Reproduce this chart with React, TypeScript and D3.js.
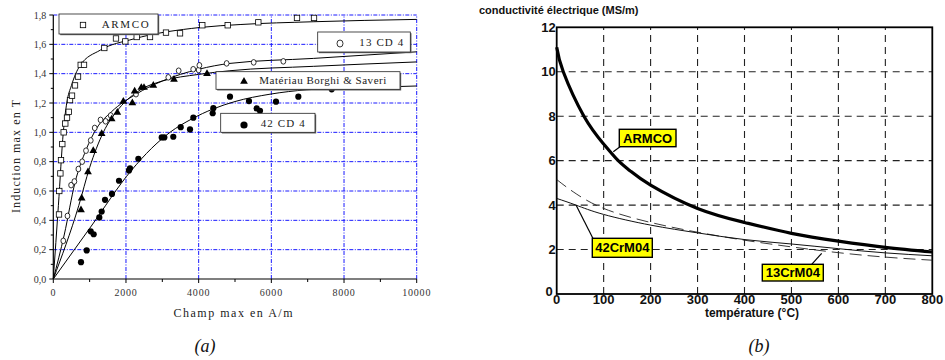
import React from "react";
import * as d3 from "d3";

// ---------- Chart (a) data ----------
const armcoPts: [number, number][] = [
  [157, 0.44], [165, 0.6], [195, 0.72], [212, 0.81], [248, 0.92], [285, 1.0], [330, 1.06],
  [377, 1.1], [424, 1.14], [460, 1.22], [515, 1.25], [597, 1.32], [680, 1.38], [754, 1.46],
  [845, 1.46], [1404, 1.575], [1725, 1.64], [1982, 1.62], [2295, 1.65], [2661, 1.65],
  [3101, 1.68], [3487, 1.675], [4100, 1.73], [4799, 1.73], [5642, 1.75], [6706, 1.78], [7174, 1.78],
];
const cd13Pts: [number, number][] = [
  [275, 0.26], [390, 0.43], [490, 0.64], [580, 0.665], [690, 0.75], [795, 0.8], [900, 0.875],
  [1030, 0.945], [1140, 1.03], [1300, 1.085], [1440, 1.075], [1580, 1.115], [2276, 1.26],
  [3165, 1.375], [3450, 1.42], [3850, 1.43], [4000, 1.425], [4020, 1.457], [4770, 1.47],
  [5514, 1.477], [6330, 1.484],
];
const borghiPts: [number, number][] = [
  [762, 0.47], [781, 0.55], [955, 0.73], [1100, 0.875], [1331, 0.99], [1606, 1.09],
  [1762, 1.135], [1927, 1.21], [2175, 1.2], [2239, 1.28], [2422, 1.305], [2496, 1.305],
  [2752, 1.32], [3321, 1.36], [4230, 1.4],
];
const cd42Pts: [number, number][] = [
  [762, 0.115], [919, 0.195], [1029, 0.325], [1111, 0.305], [1266, 0.42], [1331, 0.46],
  [1423, 0.54], [1615, 0.58], [1808, 0.67], [2083, 0.74], [2110, 0.755], [2340, 0.82],
  [2983, 0.965], [3055, 0.965], [3302, 0.97], [3506, 1.035], [3762, 1.02], [3853, 1.1],
  [4386, 1.13], [4404, 1.165], [4862, 1.243], [5385, 1.213], [5596, 1.163], [5688, 1.147],
  [6128, 1.209], [6743, 1.243], [7661, 1.293],
];
// fitted curves
const armcoFit: [number, number][] = [
  [0, 0], [140, 0.5], [275, 1.0], [370, 1.2], [500, 1.32], [735, 1.455], [1290, 1.56],
  [2200, 1.636], [4040, 1.715], [5140, 1.735], [7150, 1.754], [10000, 1.77],
];
const cd13Fit: [number, number][] = [
  [0, 0], [300, 0.3], [600, 0.66], [900, 0.88], [1200, 1.03], [1600, 1.14], [2276, 1.26],
  [3000, 1.35], [4000, 1.43], [4860, 1.47], [7155, 1.504], [10000, 1.549],
];
const borghiFit: [number, number][] = [
  [0, 0], [700, 0.5], [1000, 0.76], [1376, 1.0], [1800, 1.16], [2400, 1.29], [3000, 1.35],
  [4000, 1.395], [4860, 1.42], [7155, 1.45], [10000, 1.48],
];
const cd42Fit: [number, number][] = [
  [0, 0], [1000, 0.345], [2157, 0.743], [2700, 0.89], [3211, 1.0], [3800, 1.09], [4404, 1.16],
  [5000, 1.21], [5963, 1.26], [6973, 1.29], [8500, 1.305], [10000, 1.316],
];
const aXTicks = [0, 2000, 4000, 6000, 8000, 10000];
const aXLabels = ["0", "2000", "4000", "6000", "8000", "10000"];
const aYTicks = [0, 0.2, 0.4, 0.6, 0.8, 1.0, 1.2, 1.4, 1.6, 1.8];
const aYLabels = ["0,0", "0,2", "0,4", "0,6", "0,8", "1,0", "1,2", "1,4", "1,6", "1,8"];

// ---------- Chart (b) data ----------
const temps = [0, 100, 200, 300, 400, 500, 600, 700, 800];
const armcoT = [0, 14, 58, 100, 131, 156, 200, 300, 400, 500, 600, 700, 800];
const armcoS = [11.1, 10, 8, 6.75, 6, 5.55, 4.9, 3.85, 3.22, 2.73, 2.38, 2.1, 1.89];
const cr42T = [0, 41, 100, 200, 300, 400, 500, 600, 700, 800];
const cr42S = [4.3, 4.0, 3.58, 3.1, 2.75, 2.45, 2.25, 2.04, 1.85, 1.72];
const cr13T = [0, 35, 100, 200, 300, 400, 500, 600, 700, 800];
const cr13S = [5.15, 4.6, 3.85, 3.22, 2.78, 2.42, 2.12, 1.86, 1.66, 1.52];
const bYTicks = [0, 2, 4, 6, 8, 10, 12];

const serif = "'Liberation Serif', 'Times New Roman', serif";
const sans = "'Liberation Sans', Arial, sans-serif";

function ChartA() {
  const x = d3.scaleLinear().domain([0, 10000]).range([53.3, 416.7]);
  const y = d3.scaleLinear().domain([0, 1.8]).range([279, 15]);
  const line = d3.line<[number, number]>().x((d) => x(d[0])).y((d) => y(d[1])).curve(d3.curveMonotoneX);
  const blue = "#1a1aff";
  const dash = "4,1.5,1,1.5";
  const minorX = d3.range(1000, 10000, 2000);
  const minorY = d3.range(0.1, 1.8, 0.2);
  const tri = d3.symbol().type(d3.symbolTriangle).size(26)()!;
  return (
    <g>
      {/* grid */}
      {aXTicks.slice(1).map((t) => (
        <line key={"gx" + t} x1={x(t)} x2={x(t)} y1={y(0)} y2={y(1.8)} stroke={blue} strokeWidth={1} strokeDasharray={dash} />
      ))}
      {aYTicks.slice(1).map((t) => (
        <line key={"gy" + t} x1={x(0)} x2={x(10000)} y1={y(t)} y2={y(t)} stroke={blue} strokeWidth={1} strokeDasharray={dash} />
      ))}
      {/* axes */}
      <line x1={x(0)} x2={x(0)} y1={y(0)} y2={y(1.8)} stroke="#000" strokeWidth={1.2} />
      <line x1={x(0)} x2={x(10000)} y1={y(0)} y2={y(0)} stroke="#000" strokeWidth={1.2} />
      {aYTicks.map((t) => (
        <line key={"ty" + t} x1={x(0) - 4} x2={x(0)} y1={y(t)} y2={y(t)} stroke="#000" strokeWidth={1} />
      ))}
      {minorY.map((t) => (
        <line key={"mty" + t} x1={x(0) - 2.5} x2={x(0)} y1={y(t)} y2={y(t)} stroke="#000" strokeWidth={1} />
      ))}
      {aXTicks.map((t) => (
        <line key={"tx" + t} x1={x(t)} x2={x(t)} y1={y(0)} y2={y(0) + 4} stroke="#000" strokeWidth={1} />
      ))}
      {minorX.map((t) => (
        <line key={"mtx" + t} x1={x(t)} x2={x(t)} y1={y(0)} y2={y(0) + 3} stroke="#000" strokeWidth={1} />
      ))}
      {aYLabels.map((l, i) => (
        <text key={"ly" + l} x={x(0) - 7} y={y(aYTicks[i])} dy="0.35em" textAnchor="end" fontFamily={serif} fontSize={10} fill="#333">
          {l}
        </text>
      ))}
      {aXLabels.map((l, i) => (
        <text key={"lx" + l} x={x(aXTicks[i])} y={296} textAnchor="middle" fontFamily={serif} fontSize={10} letterSpacing={0.8} fill="#333">
          {l}
        </text>
      ))}
      <text x={233} y={316.5} textAnchor="middle" fontFamily={serif} fontSize={12} textLength={119} lengthAdjust="spacing" fill="#222">
        Champ max en A/m
      </text>
      <text transform={`translate(20,156.5) rotate(-90)`} textAnchor="middle" fontFamily={serif} fontSize={12} textLength={113} lengthAdjust="spacing" fill="#222">
        Induction max en T
      </text>
      {/* fitted curves */}
      {[armcoFit, cd13Fit, borghiFit, cd42Fit].map((c, i) => (
        <path key={"c" + i} d={line(c)!} fill="none" stroke="#000" strokeWidth={1} />
      ))}
      {/* markers */}
      {armcoPts.map((p, i) => (
        <rect key={"s" + i} x={x(p[0]) - 2.7} y={y(p[1]) - 2.7} width={5.4} height={5.4} fill="#fff" stroke="#000" strokeWidth={0.8} />
      ))}
      {cd13Pts.map((p, i) => (
        <ellipse key={"o" + i} cx={x(p[0])} cy={y(p[1])} rx={2.4} ry={2.8} fill="#fff" stroke="#000" strokeWidth={0.8} />
      ))}
      {borghiPts.map((p, i) => (
        <path key={"t" + i} d={tri} transform={`translate(${x(p[0])},${y(p[1])})`} fill="#000" />
      ))}
      {cd42Pts.map((p, i) => (
        <circle key={"f" + i} cx={x(p[0])} cy={y(p[1])} r={3.1} fill="#000" />
      ))}
      {/* legend boxes */}
      <LegendBox x0={59} y0={14} w={99} h={20} label="ARMCO" tx={101.7} tl={47}>
        <rect x={80.3} y={22.3} width={5.4} height={5.4} fill="#fff" stroke="#000" strokeWidth={0.8} />
      </LegendBox>
      <LegendBox x0={317.7} y0={32} w={92.6} h={20} label="13 CD 4" tx={359.3} tl={44}>
        <ellipse cx={340} cy={43.5} rx={3} ry={3.5} fill="#fff" stroke="#000" strokeWidth={0.8} />
      </LegendBox>
      <LegendBox x0={216} y0={71.7} w={184} h={17.6} label="Matériau Borghi & Saveri" tx={259.3} tl={127}>
        <path d={tri} transform="translate(244,81.5)" fill="#000" />
      </LegendBox>
      <LegendBox x0={220.7} y0={113.3} w={94.3} h={19} label="42 CD 4" tx={260.7} tl={44}>
        <circle cx={244} cy={125} r={3.6} fill="#000" />
      </LegendBox>
      <text x={205} y={352} textAnchor="middle" fontFamily={serif} fontStyle="italic" fontSize={18} fill="#111">
        (a)
      </text>
    </g>
  );
}

function LegendBox(props: { x0: number; y0: number; w: number; h: number; label: string; tx: number; tl: number; children?: React.ReactNode }) {
  const { x0, y0, w, h, label, tx, tl } = props;
  return (
    <g>
      <rect x={x0 + 1.2} y={y0 + 1.2} width={w} height={h} fill="#666" />
      <rect x={x0} y={y0} width={w} height={h} fill="#fff" stroke="#222" strokeWidth={0.8} />
      {props.children}
      <text x={tx} y={y0 + h / 2} dy="0.36em" fontFamily={serif} fontSize={11} textLength={tl} lengthAdjust="spacing" fill="#222">
        {label}
      </text>
    </g>
  );
}

function ChartB() {
  const x = d3.scaleLinear().domain([0, 800]).range([556.7, 932.3]);
  const y = d3.scaleLinear().domain([0, 12]).range([294, 27.3]);
  const line = d3.line<number>().curve(d3.curveNatural);
  const mk = (T: number[], S: number[]) => line.x((_, i) => x(T[i])).y((d) => y(d))(S)!;
  const gridDash = "7,5";
  return (
    <g>
      {temps.slice(1, -1).map((t) => (
        <line key={"gx" + t} x1={x(t)} x2={x(t)} y1={y(0)} y2={y(12)} stroke="#222" strokeWidth={1.1} strokeDasharray={gridDash} />
      ))}
      {bYTicks.slice(1, -1).map((t) => (
        <line key={"gy" + t} x1={x(0)} x2={x(800)} y1={y(t)} y2={y(t)} stroke="#222" strokeWidth={1.1} strokeDasharray={gridDash} />
      ))}
      <rect x={x(0)} y={y(12)} width={x(800) - x(0)} height={y(0) - y(12)} fill="none" stroke="#000" strokeWidth={1.8} />
      {temps.map((t) => (
        <text key={"lx" + t} x={x(t)} y={304} textAnchor="middle" fontFamily={sans} fontWeight="bold" fontSize={13} fill="#111">
          {t}
        </text>
      ))}
      {bYTicks.map((t) => (
        <text key={"ly" + t} x={x(0) - (t === 0 ? 4 : 1)} y={y(t) - (t === 0 ? 3 : 0)} dy="0.36em" textAnchor="end" fontFamily={sans} fontWeight="bold" fontSize={13} fill="#111">
          {t}
        </text>
      ))}
      <text x={479} y={14} fontFamily={sans} fontWeight="bold" fontSize={11} fill="#111">
        conductivité électrique (MS/m)
      </text>
      <text x={752} y={316.5} textAnchor="middle" fontFamily={sans} fontWeight="bold" fontSize={12} fill="#111">
        température (°C)
      </text>
      {/* curves */}
      <path d={mk(cr13T, cr13S)} fill="none" stroke="#222" strokeWidth={0.9} strokeDasharray="12,6" />
      <path d={mk(cr42T, cr42S)} fill="none" stroke="#111" strokeWidth={1} />
      <path d={mk(armcoT, armcoS)} fill="none" stroke="#000" strokeWidth={3.2} />
      {/* labels */}
      <line x1={620} y1={146.7} x2={613.3} y2={151.7} stroke="#000" strokeWidth={1.2} />
      <YBox x0={619.3} y0={129.3} w={56.7} h={17.4} label="ARMCO" />
      <line x1={593} y1={238.5} x2={576} y2={205} stroke="#000" strokeWidth={1.2} />
      <YBox x0={592.3} y0={238.3} w={60} h={19} label="42CrM04" />
      <line x1={811.7} y1={264.3} x2={821.7} y2={253.3} stroke="#000" strokeWidth={1.2} />
      <YBox x0={762.3} y0={264.3} w={61} h={16.7} label="13CrM04" />
      <text x={759} y={352} textAnchor="middle" fontFamily={serif} fontStyle="italic" fontSize={18} fill="#111">
        (b)
      </text>
    </g>
  );
}

function YBox(props: { x0: number; y0: number; w: number; h: number; label: string }) {
  const { x0, y0, w, h, label } = props;
  return (
    <g>
      <rect x={x0} y={y0} width={w} height={h} fill="#ffff00" stroke="#000" strokeWidth={1.4} />
      <text x={x0 + w / 2} y={y0 + h / 2} dy="0.36em" textAnchor="middle" fontFamily={sans} fontWeight="bold" fontSize={13} fill="#000">
        {label}
      </text>
    </g>
  );
}

export default function App() {
  return (
    <svg width={945} height={360} style={{ position: "absolute", left: 0, top: 0, background: "#fff" }}>
      <rect x={0} y={0} width={945} height={360} fill="#fff" />
      <ChartA />
      <ChartB />
    </svg>
  );
}
